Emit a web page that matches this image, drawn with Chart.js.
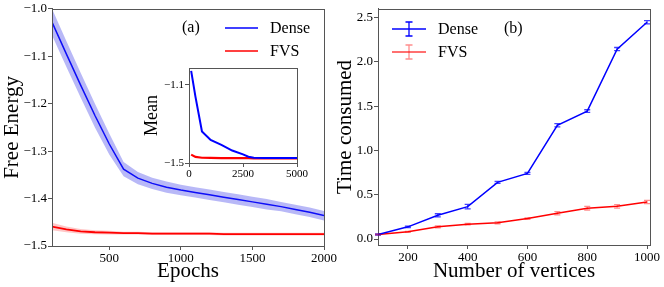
<!DOCTYPE html>
<html>
<head>
<meta charset="utf-8">
<script src="https://cdn.jsdelivr.net/npm/chart.js@4.4.0/dist/chart.umd.min.js"></script>
<style>
  html, body { margin: 0; padding: 0; background: #fff; }
  #wrap { position: relative; width: 664px; height: 287px; overflow: hidden; }
  canvas { position: absolute; }
  #chartA { left: 0; top: 0; }
  #chartB { left: 334px; top: 0; }
  #chartInset { left: 140px; top: 55px; }
</style>
</head>
<body>
<div id="wrap">
  <canvas id="chartA" width="342" height="287"></canvas>
  <canvas id="chartB" width="330" height="287"></canvas>
  <canvas id="chartInset" width="175" height="130"></canvas>
</div>
<script>
// =========================================================================
// DATA
// =========================================================================
// (a) free energy vs epochs, mean + spread (shaded band)
const epochs = [100, 200, 300, 400, 500, 600, 700, 800, 900, 1000,
                1100, 1200, 1300, 1400, 1500, 1600, 1700, 1800, 1900, 2000];
const denseMean = [-1.028, -1.095, -1.161, -1.225, -1.285, -1.338, -1.357, -1.368, -1.376, -1.382,
                   -1.387, -1.392, -1.397, -1.402, -1.407, -1.412, -1.417, -1.423, -1.429, -1.436];
const denseStd = [0.028, 0.027, 0.026, 0.025, 0.022, 0.015, 0.013, 0.012, 0.012, 0.011,
                  0.011, 0.011, 0.011, 0.011, 0.011, 0.011, 0.010, 0.010, 0.010, 0.010];
const fvsMean = [-1.459, -1.465, -1.469, -1.471, -1.472, -1.473, -1.473, -1.474, -1.474, -1.474,
                 -1.474, -1.474, -1.475, -1.475, -1.475, -1.475, -1.475, -1.475, -1.475, -1.475];
const fvsStd = [0.008, 0.006, 0.005, 0.004, 0.004, 0.003, 0.003, 0.003, 0.003, 0.003,
                0.003, 0.003, 0.003, 0.003, 0.003, 0.003, 0.003, 0.003, 0.003, 0.003];
const epochTicks = [500, 1000, 1500, 2000];
const energyTicks = [-1.5, -1.4, -1.3, -1.2, -1.1, -1.0];

// inset of (a): longer run
const insetEpochs = [100, 300, 600, 1000, 1500, 2000, 2500, 2750, 3000, 3500, 4000, 5000];
const insetDense = [-1.028, -1.161, -1.338, -1.382, -1.407, -1.436, -1.456, -1.468, -1.473, -1.474, -1.475, -1.475];
const insetFvs = [-1.457, -1.469, -1.473, -1.474, -1.475, -1.475, -1.475, -1.475, -1.476, -1.476, -1.476, -1.476];
const insetXTicks = [0, 2500, 5000];
const insetYTicks = [-1.5, -1.1];

// (b) time consumed vs number of vertices, with error bars
const vertices = [100, 200, 300, 400, 500, 600, 700, 800, 900, 1000];
const denseTime = [0.052, 0.138, 0.268, 0.366, 0.640, 0.742, 1.285, 1.445, 2.145, 2.448];
const denseErr = [0.006, 0.008, 0.018, 0.025, 0.012, 0.012, 0.018, 0.015, 0.018, 0.018];
const fvsTime = [0.052, 0.082, 0.138, 0.168, 0.183, 0.232, 0.292, 0.348, 0.370, 0.418];
const fvsErr = [0.004, 0.005, 0.010, 0.008, 0.010, 0.008, 0.018, 0.020, 0.020, 0.018];
const vertexTicks = [200, 400, 600, 800, 1000];
const timeTicks = [0.0, 0.5, 1.0, 1.5, 2.0, 2.5];

// =========================================================================
// STYLE HELPERS
// =========================================================================
const SERIF = '"Liberation Serif", "DejaVu Serif", serif';
const AXIS_COLOR = '#555';
const BLUE = '#0000ff';
const RED = '#ff0000';

Chart.defaults.animation = false;
Chart.defaults.font.family = SERIF;
Chart.defaults.color = '#000';

const fmt = (v, d) => v.toFixed(d).replace('-', '\u2212');
const toXY = (xs, ys) => xs.map((x, i) => ({ x: x, y: ys[i] }));
const setTicks = (list) => (scale) => { scale.ticks = list.map(v => ({ value: v })); };

function axis(opts) {
  const a = {
    type: 'linear',
    min: opts.min,
    max: opts.max,
    afterBuildTicks: setTicks(opts.ticks),
    grid: { drawOnChartArea: false, drawTicks: true, tickLength: 4, color: AXIS_COLOR },
    border: { display: true, color: AXIS_COLOR, width: 1 },
    ticks: {
      font: { family: SERIF, size: opts.tickSize || 13 },
      color: '#000',
      padding: 1,
      maxRotation: 0,
      autoSkip: false,
      callback: v => opts.digits === undefined ? String(v) : fmt(v, opts.digits)
    },
    title: {
      display: !!opts.title,
      text: opts.title || '',
      font: { family: SERIF, size: opts.titleSize || 21, lineHeight: 1 },
      color: '#000',
      padding: opts.titlePad || 0
    }
  };
  if (opts.width !== undefined) a.afterFit = s => { s.width = opts.width; };
  if (opts.height !== undefined) a.afterFit = s => { s.height = opts.height; };
  return a;
}

// =========================================================================
// PLUGINS: frame, error bars, legend + panel tag
// =========================================================================
const framePlugin = {
  id: 'frame',
  beforeDraw(chart, args, o) {
    if (!o.fill) return;
    const a = chart.chartArea, ctx = chart.ctx;
    ctx.save();
    ctx.fillStyle = o.fill;
    ctx.fillRect(a.left, a.top, a.right - a.left, a.bottom - a.top);
    ctx.restore();
  },
  afterDatasetsDraw(chart) {
    const a = chart.chartArea, ctx = chart.ctx;
    ctx.save();
    ctx.strokeStyle = AXIS_COLOR;
    ctx.lineWidth = 1;
    ctx.strokeRect(Math.round(a.left) + 0.5, Math.round(a.top) + 0.5,
                   Math.round(a.right - a.left), Math.round(a.bottom - a.top));
    ctx.restore();
  }
};

const errorBarPlugin = {
  id: 'errorBars',
  afterDatasetsDraw(chart) {
    const ctx = chart.ctx, yScale = chart.scales.y;
    chart.data.datasets.forEach((ds, i) => {
      if (!ds.errors) return;
      const meta = chart.getDatasetMeta(i);
      ctx.save();
      ctx.strokeStyle = ds.errorColor;
      ctx.lineWidth = 1.3;
      meta.data.forEach((pt, j) => {
        const v = ds.data[j].y, e = ds.errors[j];
        const y1 = yScale.getPixelForValue(v - e);
        const y2 = yScale.getPixelForValue(v + e);
        ctx.beginPath();
        ctx.moveTo(pt.x, y1); ctx.lineTo(pt.x, y2);
        ctx.moveTo(pt.x - 3, y1); ctx.lineTo(pt.x + 3, y1);
        ctx.moveTo(pt.x - 3, y2); ctx.lineTo(pt.x + 3, y2);
        ctx.stroke();
      });
      ctx.restore();
    });
  }
};

const legendPlugin = {
  id: 'panelLegend',
  afterDraw(chart, args, o) {
    if (!o.items) return;
    const ctx = chart.ctx;
    ctx.save();
    ctx.font = '16px ' + SERIF;
    ctx.fillStyle = '#000';
    ctx.textBaseline = 'middle';
    ctx.textAlign = 'left';
    ctx.fillText(o.tag, o.tagX, o.tagY);
    o.items.forEach((it, k) => {
      const y = o.y + k * o.gap;
      ctx.strokeStyle = it.color;
      ctx.lineWidth = it.width;
      ctx.beginPath();
      ctx.moveTo(o.x, y); ctx.lineTo(o.x + o.len, y);
      ctx.stroke();
      if (it.errorColor) {
        const cx = o.x + o.len / 2;
        ctx.strokeStyle = it.errorColor;
        ctx.lineWidth = 1.3;
        ctx.beginPath();
        ctx.moveTo(cx, y - 7); ctx.lineTo(cx, y + 7);
        ctx.moveTo(cx - 3.5, y - 7); ctx.lineTo(cx + 3.5, y - 7);
        ctx.moveTo(cx - 3.5, y + 7); ctx.lineTo(cx + 3.5, y + 7);
        ctx.stroke();
      }
      ctx.fillStyle = '#000';
      ctx.fillText(it.label, o.x + o.len + 12, y + 1);
    });
    ctx.restore();
  }
};

Chart.register(framePlugin, errorBarPlugin, legendPlugin);

function line(data, color, width, extra) {
  return Object.assign({
    data: data,
    borderColor: color,
    borderWidth: width,
    pointRadius: 0,
    tension: 0,
    fill: false
  }, extra || {});
}

// =========================================================================
// PANEL (a): FREE ENERGY
// =========================================================================
const denseHi = denseMean.map((m, i) => m + denseStd[i]);
const denseLo = denseMean.map((m, i) => m - denseStd[i]);
const fvsHi = fvsMean.map((m, i) => m + fvsStd[i]);
const fvsLo = fvsMean.map((m, i) => m - fvsStd[i]);

new Chart(document.getElementById('chartA'), {
  type: 'line',
  data: {
    datasets: [
      line(toXY(epochs, denseHi), 'rgba(0,0,0,0)', 0),
      line(toXY(epochs, denseLo), 'rgba(0,0,0,0)', 0, { fill: '-1', backgroundColor: 'rgba(40,40,230,0.33)' }),
      line(toXY(epochs, fvsHi), 'rgba(0,0,0,0)', 0),
      line(toXY(epochs, fvsLo), 'rgba(0,0,0,0)', 0, { fill: '-1', backgroundColor: 'rgba(255,0,0,0.22)' }),
      line(toXY(epochs, denseMean), BLUE, 1.5),
      line(toXY(epochs, fvsMean), RED, 1.8)
    ]
  },
  options: {
    responsive: false,
    layout: { padding: { top: 8, right: 18, bottom: 0, left: 0 } },
    scales: {
      x: axis({ min: 100, max: 2000, ticks: epochTicks, title: 'Epochs', height: 41, titlePad: { top: 0, bottom: 5 } }),
      y: axis({ min: -1.5, max: -1.0, ticks: energyTicks, digits: 1, title: 'Free Energy', width: 52, titlePad: { top: 2, bottom: 0 } })
    },
    plugins: {
      legend: { display: false },
      tooltip: { enabled: false },
      panelLegend: {
        tag: '(a)', tagX: 182, tagY: 28,
        x: 225, y: 28, gap: 23, len: 33,
        items: [
          { label: 'Dense', color: BLUE, width: 1.5 },
          { label: 'FVS', color: 'rgba(255,0,0,0.75)', width: 1.8 }
        ]
      }
    }
  }
});

// =========================================================================
// INSET of (a)
// =========================================================================
new Chart(document.getElementById('chartInset'), {
  type: 'line',
  data: {
    datasets: [
      line(toXY(insetEpochs, insetDense), BLUE, 2),
      line(toXY(insetEpochs, insetFvs), RED, 2.2)
    ]
  },
  options: {
    responsive: false,
    layout: { padding: { top: 13, right: 18, bottom: 0, left: 0 } },
    scales: {
      x: axis({ min: 0, max: 5000, ticks: insetXTicks, tickSize: 11, height: 22 }),
      y: axis({ min: -1.5, max: -1.013, ticks: insetYTicks, digits: 1, tickSize: 11, title: 'Mean', titleSize: 18, width: 49, titlePad: { top: 3, bottom: 0 } })
    },
    plugins: {
      legend: { display: false },
      tooltip: { enabled: false },
      frame: { fill: '#fff' }
    }
  }
});

// =========================================================================
// PANEL (b): TIME CONSUMED
// =========================================================================
new Chart(document.getElementById('chartB'), {
  type: 'line',
  data: {
    datasets: [
      line(toXY(vertices, denseTime), BLUE, 1.5, { errors: denseErr, errorColor: 'rgba(0,0,255,0.75)' }),
      line(toXY(vertices, fvsTime), RED, 1.5, { errors: fvsErr, errorColor: 'rgba(255,0,0,0.45)' })
    ]
  },
  options: {
    responsive: false,
    layout: { padding: { top: 7, right: 14, bottom: 0, left: 0 } },
    scales: {
      x: axis({ min: 100, max: 1010, ticks: vertexTicks, title: 'Number of vertices', height: 42, titlePad: { top: 0, bottom: 5 } }),
      y: axis({ min: -0.067, max: 2.6, ticks: timeTicks, digits: 1, title: 'Time consumed', width: 44, titlePad: { top: 1, bottom: 0 } })
    },
    plugins: {
      legend: { display: false },
      tooltip: { enabled: false },
      panelLegend: {
        tag: '(b)', tagX: 170, tagY: 29,
        x: 58, y: 29, gap: 23, len: 34,
        items: [
          { label: 'Dense', color: BLUE, width: 1.5, errorColor: BLUE },
          { label: 'FVS', color: 'rgba(255,0,0,0.75)', width: 1.5, errorColor: 'rgba(255,0,0,0.45)' }
        ]
      }
    }
  }
});
</script>
</body>
</html>
